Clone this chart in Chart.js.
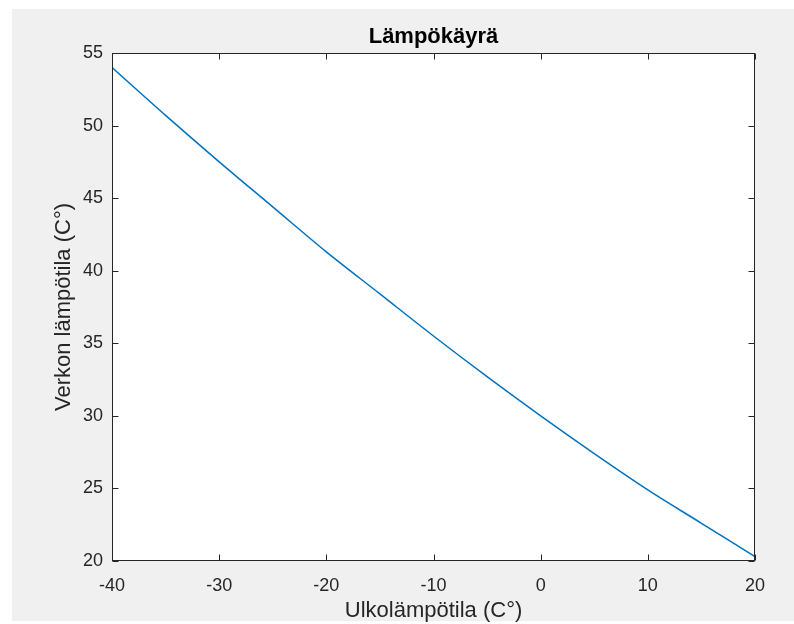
<!DOCTYPE html>
<html>
<head>
<meta charset="utf-8">
<title>Lämpökäyrä</title>
<script src="https://cdn.jsdelivr.net/npm/chart.js@4.4.1/dist/chart.umd.min.js"></script>
<style>
  html, body { margin: 0; padding: 0; background: #ffffff; }
  #chart { display: block; }
</style>
</head>
<body>
<canvas id="chart" width="794" height="624"></canvas>
<script>
// Heating curve: supply water temperature vs. outdoor temperature
const outdoorTemps = [-40, -35, -30, -25, -20, -15, -10, -5, 0, 5, 10, 15, 20];
const supplyTemps  = [54.0, 50.7, 47.5, 44.4, 41.3, 38.4, 35.5, 32.7, 30.0, 27.4, 24.9, 22.6, 20.3];

const xTicks = [-40, -30, -20, -10, 0, 10, 20];
const yTicks = [20, 25, 30, 35, 40, 45, 50, 55];

const chartTitle = 'Lämpökäyrä';
const xTitle = 'Ulkolämpötila (C°)';
const yTitle = 'Verkon lämpötila (C°)';

const FONT = "'Liberation Sans', Arial, Helvetica, sans-serif";
const AXIS_COLOR = '#262626';

// Figure background: grey panel behind the white axes
const figureBackground = {
  id: 'figureBackground',
  beforeDraw(chart) {
    const ctx = chart.ctx;
    ctx.save();
    ctx.fillStyle = '#ffffff';
    ctx.fillRect(0, 0, chart.width, chart.height);
    ctx.fillStyle = '#f0f0f0';
    ctx.fillRect(12, 9, chart.width - 12, chart.height - 12);
    const a = chart.chartArea;
    ctx.fillStyle = '#ffffff';
    ctx.fillRect(a.left, a.top, a.right - a.left, a.bottom - a.top);
    ctx.restore();
  }
};

// Box around the axes with inward tick marks on all four sides
const axesBox = {
  id: 'axesBox',
  afterDatasetsDraw(chart) {
    const ctx = chart.ctx;
    const a = chart.chartArea;
    const xs = chart.scales.x, ys = chart.scales.y;
    const L = Math.round(a.left) + 0.5, R = Math.round(a.right) - 0.5;
    const T = Math.round(a.top) + 0.5, B = Math.round(a.bottom) - 0.5;
    const len = 6;
    ctx.save();
    ctx.strokeStyle = AXIS_COLOR;
    ctx.lineWidth = 1;
    ctx.beginPath();
    xTicks.forEach(v => {
      const px = Math.round(xs.getPixelForValue(v)) + 0.5;
      ctx.moveTo(px, B); ctx.lineTo(px, B - len);
      ctx.moveTo(px, T); ctx.lineTo(px, T + len);
    });
    yTicks.forEach(v => {
      const py = Math.round(ys.getPixelForValue(v)) + 0.5;
      ctx.moveTo(L, py); ctx.lineTo(L + len, py);
      ctx.moveTo(R, py); ctx.lineTo(R - len, py);
    });
    ctx.stroke();
    ctx.strokeRect(L, T, R - L, B - T);
    ctx.restore();
  }
};

new Chart(document.getElementById('chart'), {
  type: 'line',
  data: {
    datasets: [{
      data: outdoorTemps.map((x, i) => ({ x: x, y: supplyTemps[i] })),
      borderColor: '#0072BD',
      borderWidth: 1.5,
      pointRadius: 0,
      cubicInterpolationMode: 'monotone',
      fill: false
    }]
  },
  options: {
    responsive: false,
    animation: false,
    layout: { padding: { left: 0, right: 39, top: 0, bottom: 0 } },
    plugins: {
      legend: { display: false },
      tooltip: { enabled: false },
      title: {
        display: true,
        text: chartTitle,
        fullSize: false,
        color: '#000000',
        font: { family: FONT, size: 22, weight: 'bold', lineHeight: 1.2 },
        padding: { top: 23.8, bottom: 2.8 }
      }
    },
    scales: {
      x: {
        type: 'linear',
        min: -40,
        max: 20,
        afterBuildTicks(scale) { scale.ticks = xTicks.map(v => ({ value: v })); },
        afterFit(scale) { scale.height = 63; },
        ticks: {
          color: AXIS_COLOR,
          padding: 14,
          maxRotation: 0,
          font: { family: FONT, size: 18, lineHeight: 1.2 }
        },
        grid: { display: false, drawTicks: false },
        border: { display: false },
        title: {
          display: true,
          text: xTitle,
          color: AXIS_COLOR,
          font: { family: FONT, size: 22, lineHeight: 1.2 },
          padding: { top: 0, bottom: 0 }
        }
      },
      y: {
        type: 'linear',
        min: 20,
        max: 55,
        afterBuildTicks(scale) { scale.ticks = yTicks.map(v => ({ value: v })); },
        afterFit(scale) { scale.width = 112; },
        ticks: {
          color: AXIS_COLOR,
          padding: 9,
          font: { family: FONT, size: 18, lineHeight: 1.2 }
        },
        grid: { display: false, drawTicks: false },
        border: { display: false },
        title: {
          display: true,
          text: yTitle,
          color: AXIS_COLOR,
          font: { family: FONT, size: 22, lineHeight: 1.2 },
          padding: { top: 50.8, bottom: 0 }
        }
      }
    }
  },
  plugins: [figureBackground, axesBox]
});
</script>
</body>
</html>
